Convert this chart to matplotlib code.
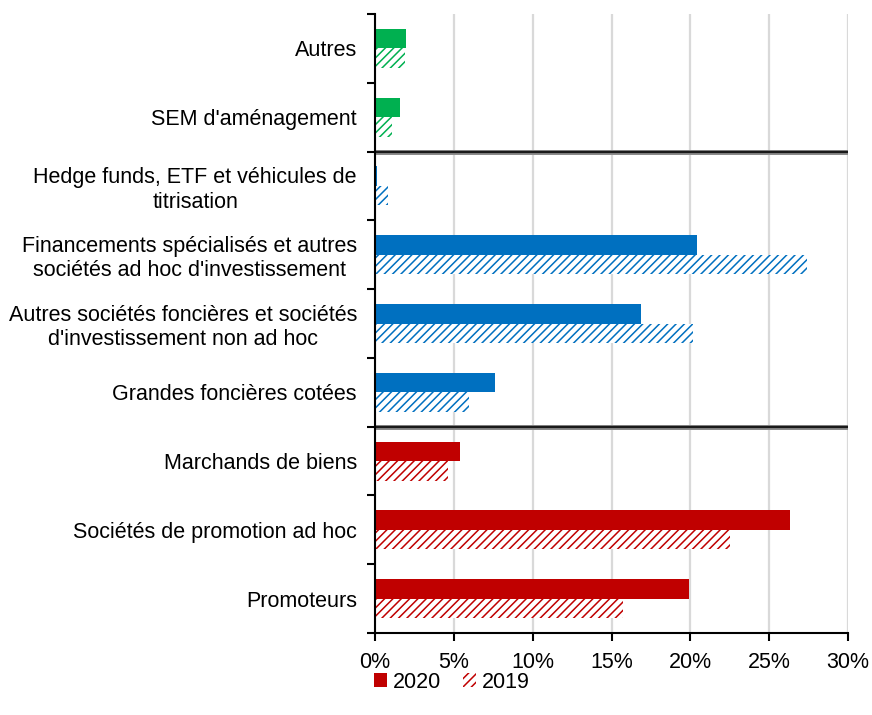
import matplotlib
matplotlib.use("Agg")
import matplotlib.pyplot as plt
import numpy as np
from matplotlib.patches import Patch

plt.rcParams['font.family'] = ['Liberation Sans', 'DejaVu Sans']
plt.rcParams['hatch.linewidth'] = 1.1

categories = [
    "Promoteurs",
    "Sociétés de promotion ad hoc",
    "Marchands de biens",
    "Grandes foncières cotées",
    "Autres sociétés foncières et sociétés\nd'investissement non ad hoc",
    "Financements spécialisés et autres\nsociétés ad hoc d'investissement",
    "Hedge funds, ETF et véhicules de\ntitrisation",
    "SEM d'aménagement",
    "Autres",
]
values_2020 = [19.9, 26.3, 5.4, 7.6, 16.9, 20.45, 0.1, 1.6, 1.95]
values_2019 = [15.7, 22.5, 4.65, 5.95, 20.2, 27.4, 0.85, 1.05, 1.9]
colors = ["#C00000", "#C00000", "#C00000", "#0070C0", "#0070C0", "#0070C0",
          "#0070C0", "#00B050", "#00B050"]
xticks = [0, 5, 10, 15, 20, 25, 30]
xticklabels = ["0%", "5%", "10%", "15%", "20%", "25%", "30%"]
separators = [2.5, 6.5]
legend_labels = ["2020", "2019"]

fs = 15.5
fig = plt.figure(figsize=(8.72, 7.15), dpi=100)
ax = fig.add_axes([375/872, 1-633/715, (848-375)/872, (633-14)/715])

y = np.arange(len(categories))
h = 0.283
ax.barh(y + h/2, values_2020, height=h, color=colors, linewidth=0, zorder=3)
ax.barh(y - h/2, values_2019, height=h, color="white", edgecolor=colors,
        hatch="////", linewidth=0, zorder=3)

ax.set_xlim(0, 30)
ax.set_ylim(-0.5, len(categories) - 0.5)
ax.set_xticks(xticks)
ax.set_xticklabels(xticklabels, fontsize=fs)
ax.set_yticks(y)
ax.set_yticklabels(categories, fontsize=fs, multialignment='center')
ax.set_yticks(np.arange(-0.5, len(categories), 1), minor=True)
ax.tick_params(axis='y', which='major', length=0, pad=13)
ax.tick_params(axis='y', which='minor', length=6, width=1.5, direction='out')
ax.tick_params(axis='x', length=6, width=1.5, direction='out', pad=8)

ax.xaxis.grid(True, color="#d9d9d9", linewidth=1.6, zorder=0)
ax.set_axisbelow(True)
for s in ['top', 'right']:
    ax.spines[s].set_visible(False)
for s in ['left', 'bottom']:
    ax.spines[s].set_linewidth(1.5)
    ax.spines[s].set_color('black')
    ax.spines[s].set_zorder(5)

for sy in separators:
    ax.axhline(sy, color="#8c8c8c", linewidth=3.6, zorder=4)
    ax.axhline(sy, color="#1a1a1a", linewidth=1.6, zorder=4)

handles = [Patch(facecolor="#C00000", edgecolor="none"),
           Patch(facecolor="white", edgecolor="#C00000", hatch="////", linewidth=0)]
fig.legend(handles, legend_labels, loc='center', bbox_to_anchor=(452/872, 1-682/715),
           ncol=2, frameon=False, fontsize=fs, handlelength=0.6, handleheight=0.6,
           handletextpad=0.3, columnspacing=1.0)

fig.savefig("out.png", dpi=100)
